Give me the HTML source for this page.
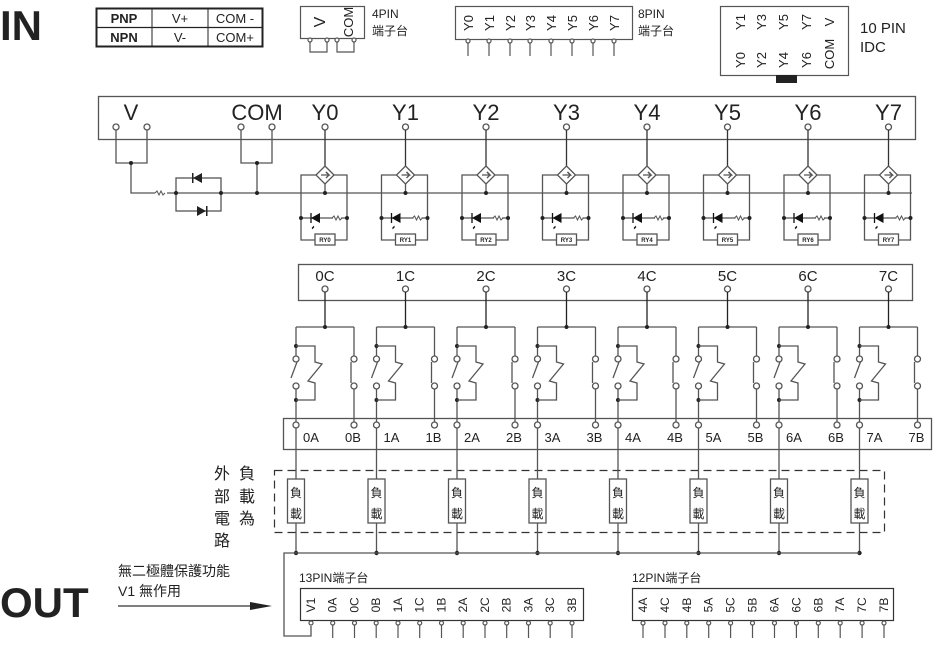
<!DOCTYPE html>
<html><head><meta charset="utf-8"><style>
html,body{margin:0;padding:0;background:#fff;}
svg{display:block;font-family:"Liberation Sans","Noto Sans CJK TC",sans-serif;}
</style></head><body>
<svg width="939" height="664" viewBox="0 0 939 664" xmlns="http://www.w3.org/2000/svg">
<defs>
<g id="ych" stroke="#555" stroke-width="1.3" fill="none">
  <circle cx="0" cy="127" r="3" fill="#fff"/>
  <line x1="0" y1="130" x2="0" y2="166" stroke="#333"/>
  <polygon points="0,166 9,175 0,184 -9,175" fill="#fff"/>
  <polyline points="-4,175 4,175 1,172 M4,175" />
  <polyline points="1,172 4,175 1,178"/>
  <polyline points="-9,175 -24,175 -24,240 -10,240"/>
  <polyline points="9,175 22,175 22,240 10,240"/>
  <line x1="0" y1="184" x2="0" y2="193"/>
  <circle cx="0" cy="193" r="2" fill="#222" stroke="none"/>
  <line x1="-24" y1="218" x2="22" y2="218"/>
  <circle cx="-24" cy="218" r="2" fill="#222" stroke="none"/>
  <circle cx="22" cy="218" r="2" fill="#222" stroke="none"/>
  <polygon points="-14,218 -5,213 -5,223" fill="#111" stroke="none"/>
  <line x1="-14" y1="213" x2="-14" y2="223" stroke="#111"/>
  <polyline points="-11,226 -13,228 -11,227 -13,229" stroke="#111" stroke-width="0.8"/>
  <rect x="8" y="216" width="8" height="4" fill="#fff" stroke="none"/>
  <polyline points="7,218 9,216 11,220 13,216 15,220 17,218" stroke-width="1"/>
  <rect x="-10" y="234" width="20" height="11" fill="#fff"/>
</g>
<g id="rch" stroke="#555" stroke-width="1.3" fill="none">
  <circle cx="0" cy="289" r="3" fill="#fff"/>
  <line x1="0" y1="292" x2="0" y2="327" stroke="#222"/>
  <line x1="-29" y1="327" x2="29" y2="327"/>
  <circle cx="0" cy="327" r="2" fill="#222" stroke="none"/>
  <line x1="-29" y1="327" x2="-29" y2="356"/>
  <circle cx="-29" cy="359" r="3" fill="#fff"/>
  <circle cx="-29" cy="386" r="3" fill="#fff"/>
  <line x1="-34" y1="378" x2="-28" y2="362"/>
  <line x1="-29" y1="389" x2="-29" y2="422"/>
  <circle cx="-29" cy="425" r="3" fill="#fff"/>
  <circle cx="-29" cy="346" r="2" fill="#222" stroke="none"/>
  <circle cx="-29" cy="400" r="2" fill="#222" stroke="none"/>
  <polyline points="-29,346 -10,346 -10,362 -3,364 -17,381 -10,383 -10,400 -29,400"/>
  <line x1="29" y1="327" x2="29" y2="356"/>
  <circle cx="29" cy="359" r="3" fill="#fff"/>
  <line x1="26" y1="362" x2="26" y2="383"/>
  <circle cx="29" cy="386" r="3" fill="#fff"/>
  <line x1="29" y1="389" x2="29" y2="422"/>
  <circle cx="29" cy="425" r="3" fill="#fff"/>
  <line x1="-29" y1="428" x2="-29" y2="479"/>
  <rect x="-37.5" y="479" width="17" height="44" fill="#fff"/>
  <line x1="-29" y1="523" x2="-29" y2="553"/>
  <circle cx="-29" cy="553" r="2.2" fill="#222" stroke="none"/>
</g>
<g id="pin" stroke="#555" stroke-width="1.2" fill="#fff">
  <circle cx="0" cy="0" r="2"/><line x1="0" y1="2" x2="0" y2="15"/>
</g>
</defs>

<!-- IN / OUT -->
<text x="0" y="40" font-size="42" font-weight="bold" fill="#222">IN</text>
<text x="0" y="617" font-size="42" font-weight="bold" fill="#222">OUT</text>

<!-- PNP table -->
<g stroke="#222" fill="none">
<rect x="96.5" y="8.5" width="166" height="38" stroke-width="2"/>
<line x1="96" y1="27.5" x2="262" y2="27.5" stroke-width="1.2"/>
<line x1="152" y1="8" x2="152" y2="46" stroke-width="1"/>
<line x1="208" y1="8" x2="208" y2="46" stroke-width="1"/>
</g>
<g font-size="13" fill="#222" text-anchor="middle">
<text x="124" y="23" font-weight="bold">PNP</text>
<text x="124" y="42" font-weight="bold">NPN</text>
<text x="180" y="23">V+</text><text x="180" y="42">V-</text>
<text x="235" y="23">COM -</text><text x="235" y="42">COM+</text>
</g>

<!-- 4PIN -->
<rect x="300.5" y="6.5" width="64" height="32" fill="none" stroke="#555" stroke-width="1.2"/>
<g font-size="13" fill="#222">
<text transform="translate(320,22) rotate(-90)" text-anchor="middle" dy="5" font-size="16">V</text>
<text transform="translate(348,22) rotate(-90)" text-anchor="middle" dy="5">COM</text>
<text x="372" y="18" font-size="12">4PIN</text><text x="372" y="35" font-size="12">端子台</text>
</g>
<g stroke="#555" stroke-width="1.2" fill="#fff">
<polyline points="310,41 310,52 327,52 327,41" fill="none"/>
<polyline points="337,41 337,52 354,52 354,41" fill="none"/>
<circle cx="310" cy="40" r="2"/><circle cx="327" cy="40" r="2"/><circle cx="337" cy="40" r="2"/><circle cx="354" cy="40" r="2"/>
</g>

<!-- 8PIN -->
<rect x="455.5" y="6.5" width="177" height="33" fill="none" stroke="#555" stroke-width="1.2"/>
<g font-size="13" fill="#222" text-anchor="middle">
<text transform="translate(468,23) rotate(-90)" dy="5">Y0</text>
<text transform="translate(489,23) rotate(-90)" dy="5">Y1</text>
<text transform="translate(510,23) rotate(-90)" dy="5">Y2</text>
<text transform="translate(530,23) rotate(-90)" dy="5">Y3</text>
<text transform="translate(551,23) rotate(-90)" dy="5">Y4</text>
<text transform="translate(572,23) rotate(-90)" dy="5">Y5</text>
<text transform="translate(593,23) rotate(-90)" dy="5">Y6</text>
<text transform="translate(614,23) rotate(-90)" dy="5">Y7</text>
</g>
<text x="638" y="18" font-size="12" fill="#222">8PIN</text><text x="638" y="35" font-size="12" fill="#222">端子台</text>
<use href="#pin" x="468" y="41"/><use href="#pin" x="489" y="41"/><use href="#pin" x="510" y="41"/><use href="#pin" x="530" y="41"/>
<use href="#pin" x="551" y="41"/><use href="#pin" x="572" y="41"/><use href="#pin" x="593" y="41"/><use href="#pin" x="614" y="41"/>

<!-- 10PIN -->
<rect x="720.5" y="6.5" width="128" height="69" fill="none" stroke="#555" stroke-width="1.2"/>
<rect x="776" y="75" width="21" height="8" fill="#222"/>
<g font-size="13" fill="#222" text-anchor="middle">
<text transform="translate(740,22) rotate(-90)" dy="5">Y1</text>
<text transform="translate(761,22) rotate(-90)" dy="5">Y3</text>
<text transform="translate(783,22) rotate(-90)" dy="5">Y5</text>
<text transform="translate(806,22) rotate(-90)" dy="5">Y7</text>
<text transform="translate(829,22) rotate(-90)" dy="5">V</text>
<text transform="translate(740,60) rotate(-90)" dy="5">Y0</text>
<text transform="translate(761,60) rotate(-90)" dy="5">Y2</text>
<text transform="translate(783,60) rotate(-90)" dy="5">Y4</text>
<text transform="translate(806,60) rotate(-90)" dy="5">Y6</text>
<text transform="translate(829,54) rotate(-90)" dy="5">COM</text>
</g>
<text x="860" y="33" font-size="15" fill="#222">10 PIN</text>
<text x="860" y="52" font-size="15" fill="#222">IDC</text>

<!-- top box -->
<rect x="98.5" y="96.5" width="817" height="43" fill="none" stroke="#555" stroke-width="1.3"/>
<g font-size="22" fill="#222" text-anchor="middle">
<text x="131" y="120">V</text><text x="257" y="120">COM</text>
<text x="325" y="120">Y0</text><text x="405.5" y="120">Y1</text><text x="486" y="120">Y2</text><text x="566.5" y="120">Y3</text>
<text x="647" y="120">Y4</text><text x="727.5" y="120">Y5</text><text x="808" y="120">Y6</text><text x="888.5" y="120">Y7</text>
</g>
<g stroke="#555" stroke-width="1.3" fill="none">
<polyline points="116,130 116,163 147,163 147,130"/>
<polyline points="241,130 241,163 272,163 272,130"/>
<polyline points="131,163 131,193 912,193"/>
<rect x="176" y="178" width="45" height="33"/>
<circle cx="116" cy="127" r="3" fill="#fff"/><circle cx="147" cy="127" r="3" fill="#fff"/>
<circle cx="241" cy="127" r="3" fill="#fff"/><circle cx="272" cy="127" r="3" fill="#fff"/>
<line x1="257" y1="163" x2="257" y2="193"/>
<rect x="155" y="190" width="12" height="6" fill="#fff" stroke="none"/>
<polyline points="155,193 157,191 159,195 161,191 163,195 165,193" stroke-width="1"/>
</g>
<g fill="#222">
<circle cx="131" cy="163" r="2"/><circle cx="257" cy="163" r="2"/>
<circle cx="176" cy="193" r="2"/><circle cx="221" cy="193" r="2"/><circle cx="257" cy="193" r="2"/>
<polygon points="193,178 202,173 202,183"/><rect x="192" y="173" width="1.5" height="10"/>
<polygon points="206,211 197,206 197,216"/><rect x="206" y="206" width="1.5" height="10"/>
</g>

<use href="#ych" x="325"/><use href="#ych" x="405.5"/><use href="#ych" x="486"/><use href="#ych" x="566.5"/>
<use href="#ych" x="647"/><use href="#ych" x="727.5"/><use href="#ych" x="808"/><use href="#ych" x="888.5"/>
<g font-size="6" fill="#222" text-anchor="middle" font-weight="bold">
<text x="325" y="242">RY0</text><text x="405.5" y="242">RY1</text><text x="486" y="242">RY2</text><text x="566.5" y="242">RY3</text>
<text x="647" y="242">RY4</text><text x="727.5" y="242">RY5</text><text x="808" y="242">RY6</text><text x="888.5" y="242">RY7</text>
</g>

<!-- relay box -->
<rect x="298.5" y="264.5" width="614" height="36" fill="none" stroke="#555" stroke-width="1.3"/>
<rect x="283.5" y="418.5" width="648" height="31" fill="none" stroke="#555" stroke-width="1.3"/>
<rect x="274.5" y="470.5" width="610" height="62" fill="none" stroke="#333" stroke-width="1.2" stroke-dasharray="8,5"/>
<g font-size="15" fill="#222" text-anchor="middle">
<text x="325" y="281">0C</text><text x="405.5" y="281">1C</text><text x="486" y="281">2C</text><text x="566.5" y="281">3C</text>
<text x="647" y="281">4C</text><text x="727.5" y="281">5C</text><text x="808" y="281">6C</text><text x="888.5" y="281">7C</text>
</g>
<use href="#rch" x="325"/><use href="#rch" x="405.5"/><use href="#rch" x="486"/><use href="#rch" x="566.5"/>
<use href="#rch" x="647"/><use href="#rch" x="727.5"/><use href="#rch" x="808"/><use href="#rch" x="888.5"/>
<g font-size="13" fill="#222" text-anchor="middle">
<text x="311" y="442">0A</text><text x="353" y="442">0B</text>
<text x="391.5" y="442">1A</text><text x="433.5" y="442">1B</text>
<text x="472" y="442">2A</text><text x="514" y="442">2B</text>
<text x="552.5" y="442">3A</text><text x="594.5" y="442">3B</text>
<text x="633" y="442">4A</text><text x="675" y="442">4B</text>
<text x="713.5" y="442">5A</text><text x="755.5" y="442">5B</text>
<text x="794" y="442">6A</text><text x="836" y="442">6B</text>
<text x="874.5" y="442">7A</text><text x="916.5" y="442">7B</text>
</g>
<g font-size="12" fill="#222" text-anchor="middle">
<text x="296" y="497">負</text><text x="296" y="518">載</text>
<text x="376.5" y="497">負</text><text x="376.5" y="518">載</text>
<text x="457" y="497">負</text><text x="457" y="518">載</text>
<text x="537.5" y="497">負</text><text x="537.5" y="518">載</text>
<text x="618" y="497">負</text><text x="618" y="518">載</text>
<text x="698.5" y="497">負</text><text x="698.5" y="518">載</text>
<text x="779" y="497">負</text><text x="779" y="518">載</text>
<text x="859.5" y="497">負</text><text x="859.5" y="518">載</text>
</g>
<g font-size="16" fill="#222" text-anchor="middle">
<text x="222" y="479">外</text><text x="247" y="479">負</text>
<text x="222" y="502">部</text><text x="247" y="502">載</text>
<text x="222" y="524">電</text><text x="247" y="524">為</text>
<text x="222" y="546">路</text>
</g>
<polyline points="859.5,553 284,553 284,636 311,636 311,626" fill="none" stroke="#555" stroke-width="1.3"/>

<!-- arrow -->
<text x="118" y="576" font-size="14" fill="#222">無二極體保護功能</text>
<text x="118" y="596" font-size="14" fill="#222">V1 無作用</text>
<line x1="118" y1="606" x2="255" y2="606" stroke="#333" stroke-width="1.3"/>
<polygon points="272,606 250,602 250,610" fill="#222"/>

<!-- 13PIN -->
<text x="299" y="582" font-size="12" fill="#222">13PIN端子台</text>
<rect x="300.5" y="588.5" width="283" height="32" fill="none" stroke="#333" stroke-width="1.2"/>
<g font-size="12" fill="#222" text-anchor="middle">
<text transform="translate(311,605) rotate(-90)" dy="4">V1</text>
<text transform="translate(332.7,605) rotate(-90)" dy="4">0A</text>
<text transform="translate(354.5,605) rotate(-90)" dy="4">0C</text>
<text transform="translate(376.2,605) rotate(-90)" dy="4">0B</text>
<text transform="translate(398,605) rotate(-90)" dy="4">1A</text>
<text transform="translate(419.7,605) rotate(-90)" dy="4">1C</text>
<text transform="translate(441.5,605) rotate(-90)" dy="4">1B</text>
<text transform="translate(463.2,605) rotate(-90)" dy="4">2A</text>
<text transform="translate(485,605) rotate(-90)" dy="4">2C</text>
<text transform="translate(506.7,605) rotate(-90)" dy="4">2B</text>
<text transform="translate(528.5,605) rotate(-90)" dy="4">3A</text>
<text transform="translate(550.2,605) rotate(-90)" dy="4">3C</text>
<text transform="translate(572,605) rotate(-90)" dy="4">3B</text>
</g>
<circle cx="311" cy="623" r="2" fill="#fff" stroke="#555" stroke-width="1.2"/>
<use href="#pin" x="332.7" y="623"/><use href="#pin" x="354.5" y="623"/><use href="#pin" x="376.2" y="623"/>
<use href="#pin" x="398" y="623"/><use href="#pin" x="419.7" y="623"/><use href="#pin" x="441.5" y="623"/><use href="#pin" x="463.2" y="623"/>
<use href="#pin" x="485" y="623"/><use href="#pin" x="506.7" y="623"/><use href="#pin" x="528.5" y="623"/><use href="#pin" x="550.2" y="623"/><use href="#pin" x="572" y="623"/>

<!-- 12PIN -->
<text x="632" y="582" font-size="12" fill="#222">12PIN端子台</text>
<rect x="632.5" y="588.5" width="261" height="32" fill="none" stroke="#333" stroke-width="1.2"/>
<g font-size="12" fill="#222" text-anchor="middle">
<text transform="translate(643,605) rotate(-90)" dy="4">4A</text>
<text transform="translate(665,605) rotate(-90)" dy="4">4C</text>
<text transform="translate(686.8,605) rotate(-90)" dy="4">4B</text>
<text transform="translate(708.7,605) rotate(-90)" dy="4">5A</text>
<text transform="translate(730.6,605) rotate(-90)" dy="4">5C</text>
<text transform="translate(752.5,605) rotate(-90)" dy="4">5B</text>
<text transform="translate(774.5,605) rotate(-90)" dy="4">6A</text>
<text transform="translate(796.4,605) rotate(-90)" dy="4">6C</text>
<text transform="translate(818.3,605) rotate(-90)" dy="4">6B</text>
<text transform="translate(840.2,605) rotate(-90)" dy="4">7A</text>
<text transform="translate(862.1,605) rotate(-90)" dy="4">7C</text>
<text transform="translate(884,605) rotate(-90)" dy="4">7B</text>
</g>
<use href="#pin" x="643" y="623"/><use href="#pin" x="665" y="623"/><use href="#pin" x="686.8" y="623"/><use href="#pin" x="708.7" y="623"/>
<use href="#pin" x="730.6" y="623"/><use href="#pin" x="752.5" y="623"/><use href="#pin" x="774.5" y="623"/><use href="#pin" x="796.4" y="623"/>
<use href="#pin" x="818.3" y="623"/><use href="#pin" x="840.2" y="623"/><use href="#pin" x="862.1" y="623"/><use href="#pin" x="884" y="623"/>
</svg>
</body></html>
